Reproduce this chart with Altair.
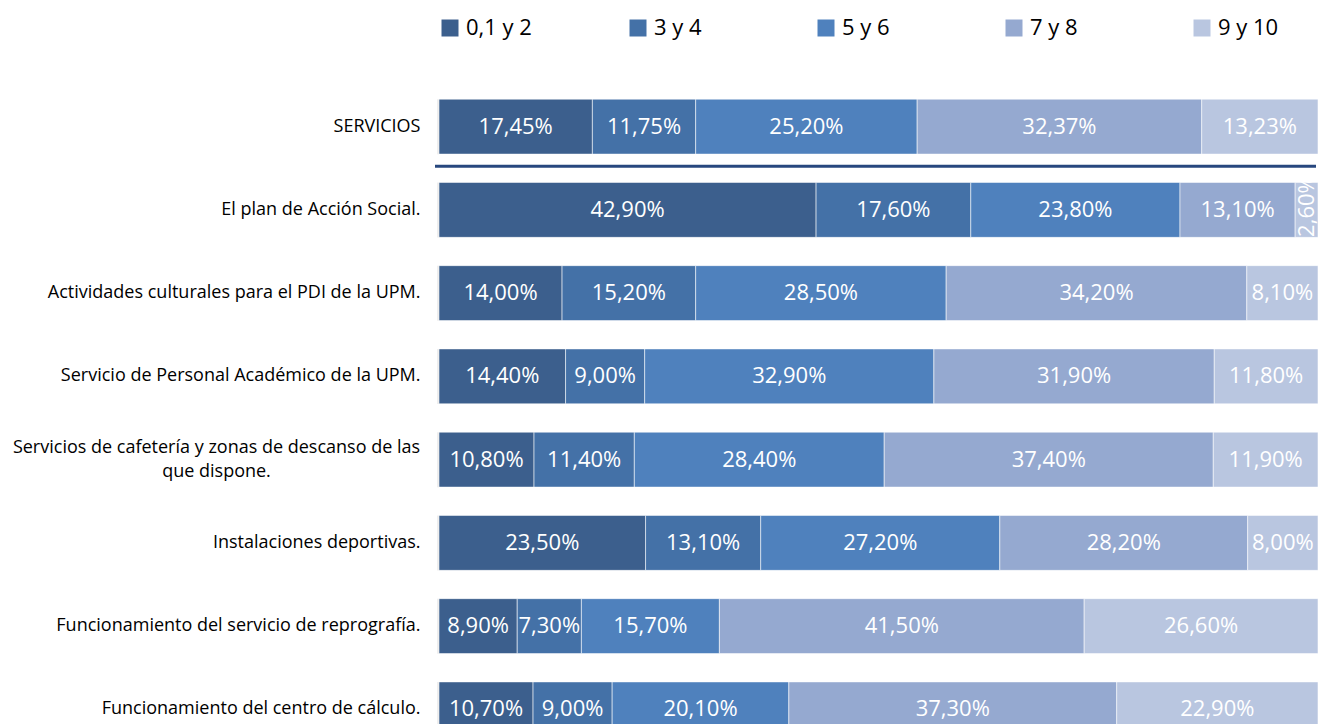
import altair as alt
import pandas as pd

categories = [
    "SERVICIOS",
    "El plan de Acción Social.",
    "Actividades culturales para el PDI de la UPM.",
    "Servicio de Personal Académico de la UPM.",
    "Servicios de cafetería y zonas de descanso de las que dispone.",
    "Instalaciones deportivas.",
    "Funcionamiento del servicio de reprografía.",
    "Funcionamiento del centro de cálculo.",
]
groups = ["0,1 y 2", "3 y 4", "5 y 6", "7 y 8", "9 y 10"]
colors = ["#3C5F8D", "#4471A7", "#4F81BD", "#95A9D0", "#B9C6E0"]

v_012 = [17.45, 42.90, 14.00, 14.40, 10.80, 23.50, 8.90, 10.70]
v_34 = [11.75, 17.60, 15.20, 9.00, 11.40, 13.10, 7.30, 9.00]
v_56 = [25.20, 23.80, 28.50, 32.90, 28.40, 27.20, 15.70, 20.10]
v_78 = [32.37, 13.10, 34.20, 31.90, 37.40, 28.20, 41.50, 37.30]
v_910 = [13.23, 2.60, 8.10, 11.80, 11.90, 8.00, 26.60, 22.90]

series = [v_012, v_34, v_56, v_78, v_910]
rows = []
for gi, (g, vals) in enumerate(zip(groups, series)):
    for c, v in zip(categories, vals):
        rows.append({"cat": c, "grp": g, "gi": gi, "v": v})
df = pd.DataFrame(rows)

W = 879
H = 666
FONT = "Open Sans"

yscale = alt.Scale(paddingInner=0.34, paddingOuter=0.17)

multi_test = "indexof(datum.value,' que ')>0"
split_expr = ("indexof(datum.value,' que ')>0 ? "
              "[substring(datum.value,0,indexof(datum.value,' que ')), "
              "substring(datum.value,indexof(datum.value,' que ')+1)] : datum.label")

yaxis = {
    "title": None, "domain": False, "ticks": False, "labelFont": FONT,
    "labelFontSize": 18, "labelColor": "#000000", "labelLimit": 500,
    "labelExpr": split_expr,
    "labelAlign": {"condition": {"test": multi_test, "value": "center"}, "value": "right"},
    "labelPadding": {"condition": {"test": multi_test, "value": 223}, "value": 19},
    "labelOffset": {"condition": {"test": multi_test, "value": -12}, "value": 0},
    "labelLineHeight": 24,
}

base = alt.Chart(df).transform_stack(
    stack="v", as_=["s0", "s1"], groupby=["cat"], offset="normalize",
    sort=[alt.SortField("gi", order="ascending")]
).transform_calculate(
    mid="(datum.s0+datum.s1)/2",
    lab="replace(format(datum.v, '.2f'), '.', ',') + '%'",
)

Y = alt.Y("cat:N", sort=categories, scale=yscale, axis=alt.Axis(**yaxis))
Xs = alt.Scale(domain=[0, 1], nice=False, zero=True)

bars = base.mark_bar(stroke="#ffffff", strokeWidth=1, strokeOpacity=0.55).encode(
    x=alt.X("s0:Q", scale=Xs, axis=None),
    x2="s1:Q",
    y=Y,
    color=alt.Color(
        "grp:N",
        scale=alt.Scale(domain=groups, range=colors),
        legend=alt.Legend(
            title=None, orient="none", legendX=0, legendY=-68,
            direction="horizontal", columns=5, gridAlign="all",
            columnPadding=95, symbolType="square", symbolSize=289,
            symbolStrokeWidth=0, symbolOpacity=1, labelFont=FONT,
            labelFontSize=22, labelColor="#000000", labelOffset=5,
            labelLimit=200,
        ),
    ),
    order=alt.Order("gi:Q"),
)

labels = base.transform_filter("datum.v >= 5").mark_text(
    color="#ffffff", font=FONT, fontSize=22, baseline="middle", align="center"
).encode(
    x=alt.X("mid:Q", scale=Xs),
    y=alt.Y("cat:N", sort=categories, scale=yscale),
    text="lab:N",
)

small_labels = base.transform_filter("datum.v < 5").mark_text(
    color="#ffffff", font=FONT, fontSize=22, baseline="middle", align="left",
    angle=270, yOffset=27
).encode(
    x=alt.X("mid:Q", scale=Xs),
    y=alt.Y("cat:N", sort=categories, scale=yscale),
    text="lab:N",
)

left_ticks = base.transform_filter("datum.gi == 0").mark_tick(
    color="#D0D0D0", thickness=1, size=55, xOffset=-1
).encode(
    x=alt.X("s0:Q", scale=Xs),
    y=alt.Y("cat:N", sort=categories, scale=yscale),
)

sep = alt.Chart(pd.DataFrame({"cat": [categories[0]]})).mark_rule(
    color="#27477E", strokeWidth=3, yOffset=39.5
).encode(
    y=alt.Y("cat:N", sort=categories, scale=yscale),
    x=alt.value(-4),
    x2=alt.value(W - 2),
)

chart = alt.layer(bars, left_ticks, labels, small_labels, sep).properties(
    width=W, height=H,
    padding={"left": 431, "top": 77, "right": 4, "bottom": 0},
    autosize=alt.AutoSizeParams(type="none"),
    background="#ffffff",
).configure_view(stroke=None)

chart.save("out.html", embed_options={"renderer": "svg", "actions": False})
